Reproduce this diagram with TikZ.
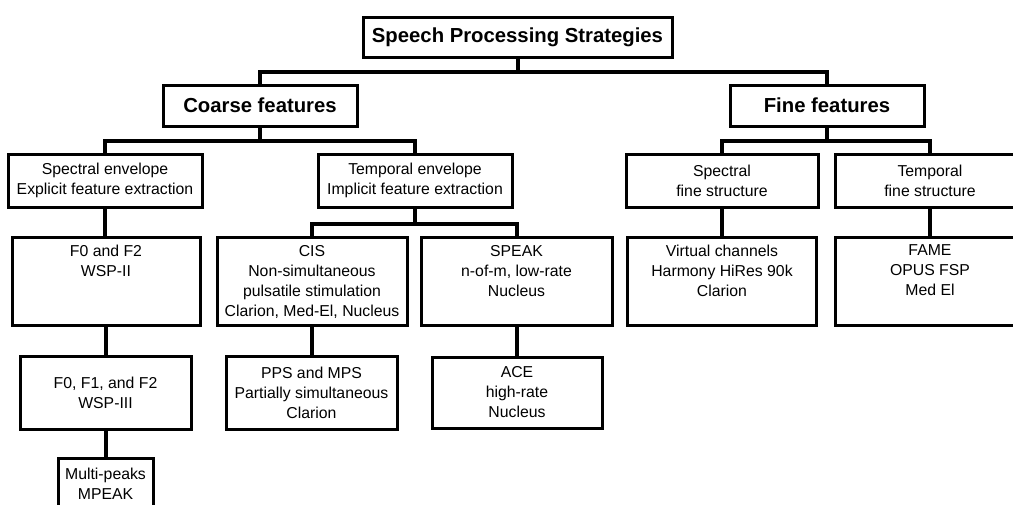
\documentclass[tikz,border=0pt]{standalone}
\usepackage{fontspec}
\setmainfont{Liberation Sans}
\newcommand\topfour[1]{\parbox[c][72pt][t]{184pt}{\centering #1}}
\begin{document}
\begin{tikzpicture}[x=1pt,y=-1pt,
  bx/.style={draw, line width=3pt, inner sep=0pt, align=center,
    font=\fontsize{15.8}{20}\selectfont},
  ttl/.style={bx, font=\bfseries\fontsize{20.3}{24}\selectfont},
  conn/.style={line width=4pt},
]
\useasboundingbox (0,0) rectangle (1013,504);
\clip (0,0) rectangle (1013,504);

% level 0
\node[ttl, minimum width=309, minimum height=40] (top) at (517.5,37) {Speech Processing Strategies};
% level 1
\node[ttl, minimum width=194, minimum height=41] (coarse) at (260,105.5) {Coarse features};
\node[ttl, minimum width=194, minimum height=41] (fine) at (827,105.5) {Fine features};
% level 2
\node[bx, minimum width=194, minimum height=53] (spenv) at (105,180.5) {Spectral envelope\\Explicit feature extraction};
\node[bx, minimum width=194, minimum height=53] (tenv) at (415,180.5) {Temporal envelope\\Implicit feature extraction};
\node[bx, minimum width=192, minimum height=53] (sfs) at (722,180.5) {Spectral\\fine structure};
\node[bx, minimum width=190, minimum height=53] (tfs) at (930,180.5) {Temporal\\fine structure};
% level 3
\node[bx, minimum width=188, minimum height=88] (f0f2) at (106,281) {\topfour{F0 and F2\\WSP-II}};
\node[bx, minimum width=190, minimum height=88] (cis) at (312,281) {\topfour{CIS\\Non-simultaneous\\pulsatile stimulation\\Clarion, Med-El, Nucleus}};
\node[bx, minimum width=191, minimum height=88] (speak) at (516.5,281) {\topfour{SPEAK\\n-of-m, low-rate\\Nucleus}};
\node[bx, minimum width=189, minimum height=88] (vc) at (722,281) {\topfour{Virtual channels\\Harmony HiRes 90k\\Clarion}};
\node[bx, minimum width=190, minimum height=88] (fame) at (930,281) {\topfour{FAME\\OPUS FSP\\Med El}};
% level 4
\node[bx, minimum width=171, minimum height=73] (f012) at (105.5,392.5) {F0, F1, and F2\\WSP-III};
\node[bx, minimum width=171, minimum height=73] (pps) at (311.5,392.5) {PPS and MPS\\Partially simultaneous\\Clarion};
\node[bx, minimum width=170, minimum height=71] (ace) at (517,392.5) {ACE\\high-rate\\Nucleus};
% level 5
\node[bx, minimum width=95, minimum height=52] (mpeak) at (105.5,484) {Multi-peaks\\MPEAK};

% connectors
\draw[conn] (top.south) -- ++(0,13) -| (coarse.north);
\draw[conn] (top.south) -- ++(0,13) -| (fine.north);
\draw[conn] (coarse.south) -- ++(0,13) -| (spenv.north);
\draw[conn] (coarse.south) -- ++(0,13) -| (tenv.north);
\draw[conn] (fine.south) -- ++(0,13) -| (sfs.north);
\draw[conn] (fine.south) -- ++(0,13) -| (tfs.north);
\draw[conn] (tenv.south) -- ++(0,15) -| (cis.north);
\draw[conn] (tenv.south) -- ++(0,15) -| (speak.north);
\draw[conn] (spenv.south) -- (spenv.south |- f0f2.north);
\draw[conn] (sfs.south) -- (sfs.south |- vc.north);
\draw[conn] (tfs.south) -- (tfs.south |- fame.north);
\draw[conn] (f0f2.south) -- (f0f2.south |- f012.north);
\draw[conn] (cis.south) -- (cis.south |- pps.north);
\draw[conn] (speak.south) -- (speak.south |- ace.north);
\draw[conn] (f012.south) -- (f012.south |- mpeak.north);
\end{tikzpicture}
\end{document}
